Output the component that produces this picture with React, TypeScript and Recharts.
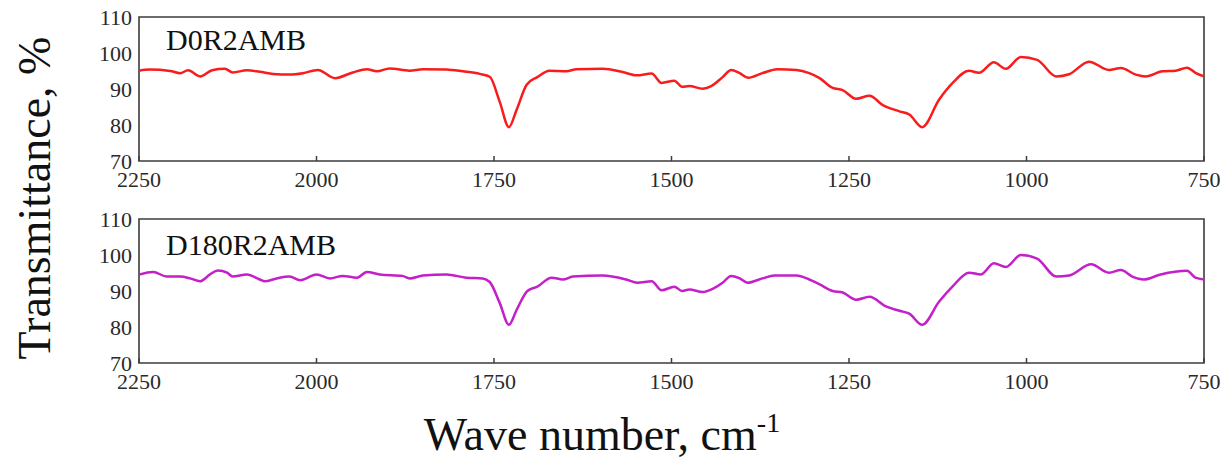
import React from 'react';
import { LineChart, Line, XAxis, YAxis, ReferenceArea } from 'recharts';

// wave numbers (cm-1) and transmittance (%)
const topWave = [2250, 2235, 2206, 2192, 2181, 2164, 2147, 2129, 2118, 2098, 2080, 2061, 2038, 2019, 1998, 1974, 1949, 1929, 1915, 1897, 1869, 1850, 1817, 1794, 1770, 1756, 1742, 1729, 1718, 1704, 1689, 1672, 1648, 1634, 1597, 1569, 1549, 1528, 1514, 1496, 1485, 1475, 1456, 1444, 1428, 1416, 1404, 1392, 1372, 1351, 1324, 1306, 1292, 1273, 1259, 1240, 1221, 1203, 1179, 1165, 1147, 1123, 1104, 1081, 1067, 1046, 1029, 1008, 985, 958, 940, 912, 884, 867, 846, 832, 809, 790, 774, 762, 750];
const topTrans = [95.1, 95.4, 95.0, 94.4, 95.2, 93.5, 95.2, 95.6, 94.6, 95.2, 94.8, 94.2, 94.0, 94.4, 95.3, 93.0, 94.6, 95.5, 94.9, 95.7, 95.1, 95.5, 95.4, 94.9, 94.2, 93.4, 86.5, 79.4, 84.3, 91.2, 93.3, 95.1, 94.9, 95.5, 95.6, 94.7, 93.8, 94.3, 91.7, 92.3, 90.6, 90.8, 90.1, 90.8, 93.3, 95.3, 94.4, 93.1, 94.4, 95.5, 95.3, 94.4, 93.1, 90.3, 89.7, 87.3, 88.1, 85.6, 83.8, 82.9, 79.4, 87.1, 91.7, 95.1, 94.5, 97.4, 95.6, 98.9, 98.1, 93.5, 94.1, 97.6, 95.3, 95.8, 94.0, 93.5, 94.9, 95.1, 95.9, 94.5, 93.5];

const bottomWave = [2250, 2230, 2211, 2192, 2178, 2164, 2150, 2139, 2126, 2118, 2098, 2080, 2073, 2056, 2038, 2023, 2000, 1981, 1963, 1943, 1929, 1911, 1879, 1869, 1850, 1817, 1789, 1766, 1756, 1742, 1729, 1718, 1703, 1689, 1669, 1653, 1639, 1597, 1564, 1548, 1528, 1514, 1496, 1485, 1475, 1456, 1442, 1428, 1416, 1404, 1393, 1372, 1355, 1324, 1306, 1292, 1273, 1259, 1240, 1221, 1198, 1179, 1165, 1147, 1123, 1104, 1081, 1064, 1046, 1029, 1008, 985, 958, 940, 909, 884, 867, 851, 835, 811, 774, 762, 750];
const bottomTrans = [94.6, 95.3, 94.0, 94.0, 93.5, 92.7, 94.6, 95.7, 95.1, 94.0, 94.6, 93.2, 92.7, 93.5, 94.0, 93.0, 94.6, 93.5, 94.2, 93.7, 95.3, 94.6, 94.2, 93.5, 94.3, 94.6, 93.7, 93.5, 92.5, 86.7, 80.6, 84.8, 90.0, 91.2, 93.7, 93.2, 94.0, 94.3, 93.2, 92.3, 92.7, 90.2, 91.2, 90.0, 90.4, 89.7, 90.6, 92.3, 94.2, 93.5, 92.3, 93.5, 94.3, 94.3, 93.2, 91.9, 90.0, 89.6, 87.6, 88.4, 85.7, 84.5, 83.7, 80.6, 87.1, 91.3, 95.1, 94.6, 97.7, 96.7, 100.0, 99.0, 94.0, 94.3, 97.4, 95.1, 95.8, 94.0, 93.2, 94.6, 95.6, 93.7, 93.2];

const sampleNames = ['D0R2AMB', 'D180R2AMB'];
const xTicks = [2250, 2000, 1750, 1500, 1250, 1000, 750];
const yTicks = [70, 80, 90, 100, 110];

const FONT = '"Liberation Serif", "Times New Roman", serif';
const FRAME = '#3c3c3c';

const toRows = (wave: number[], trans: number[]) => wave.map((w, i) => ({ wn: w, t: trans[i] }));

const XTick = (props: any) => {
  const { x, y, payload } = props;
  return (
    <g>
      <line x1={x} x2={x} y1={y} y2={y - 5} stroke={FRAME} strokeWidth={1.5} />
      <text x={x} y={y + 26} textAnchor="middle" fontSize={22} fontFamily={FONT} fill="#2a2a2a">
        {payload.value}
      </text>
    </g>
  );
};

const YTick = (props: any) => {
  const { x, y, payload } = props;
  return (
    <text x={x - 7} y={y + 8} textAnchor="end" fontSize={22} fontFamily={FONT} fill="#2a2a2a">
      {payload.value}
    </text>
  );
};

const Panel = ({ rows, color, top }: { rows: { wn: number; t: number }[]; color: string; top: number }) => (
  <LineChart width={1228} height={200} data={rows} margin={{ top, right: 24, bottom: 200 - top - 144 - 30, left: 89 }}>
    <XAxis
      type="number"
      dataKey="wn"
      domain={[750, 2250]}
      reversed
      ticks={xTicks}
      interval={0}
      height={30}
      tickSize={0}
      tickMargin={0}
      axisLine={false}
      tickLine={false}
      tick={<XTick />}
      allowDataOverflow
    />
    <YAxis
      type="number"
      domain={[70, 110]}
      ticks={yTicks}
      interval={0}
      width={50}
      tickSize={0}
      tickMargin={0}
      axisLine={false}
      tickLine={false}
      tick={<YTick />}
      allowDataOverflow
    />
    <ReferenceArea x1={750} x2={2250} y1={70} y2={110} fill="none" fillOpacity={0} stroke={FRAME} strokeWidth={1.6} ifOverflow="visible" />
    <Line type="monotone" dataKey="t" stroke={color} strokeWidth={2.5} dot={false} isAnimationActive={false} />
  </LineChart>
);

export default function App() {
  return (
    <div style={{ position: 'absolute', left: 0, top: 0, width: 1228, height: 462, background: '#fff' }}>
      <div style={{ position: 'absolute', left: 0, top: 0 }}>
        <Panel rows={toRows(topWave, topTrans)} color="#f81c1c" top={17} />
      </div>
      <div style={{ position: 'absolute', left: 0, top: 200 }}>
        <Panel rows={toRows(bottomWave, bottomTrans)} color="#c41fc8" top={19} />
      </div>
      <svg width={1228} height={462} style={{ position: 'absolute', left: 0, top: 0, pointerEvents: 'none' }}>
        <text x={166} y={50} fontSize={30} fontFamily={FONT} fill="#111">{sampleNames[0]}</text>
        <text x={166} y={255} fontSize={30} fontFamily={FONT} fill="#111">{sampleNames[1]}</text>
        <text x={50} y={198} transform="rotate(-90 50 198)" textAnchor="middle" fontSize={46} fontFamily={FONT} fill="#111">
          Transmittance, %
        </text>
        <text x={602} y={450} textAnchor="middle" fontSize={46} fontFamily={FONT} fill="#111">
          Wave number, cm<tspan fontSize={28} dy={-18}>-1</tspan>
        </text>
      </svg>
    </div>
  );
}
